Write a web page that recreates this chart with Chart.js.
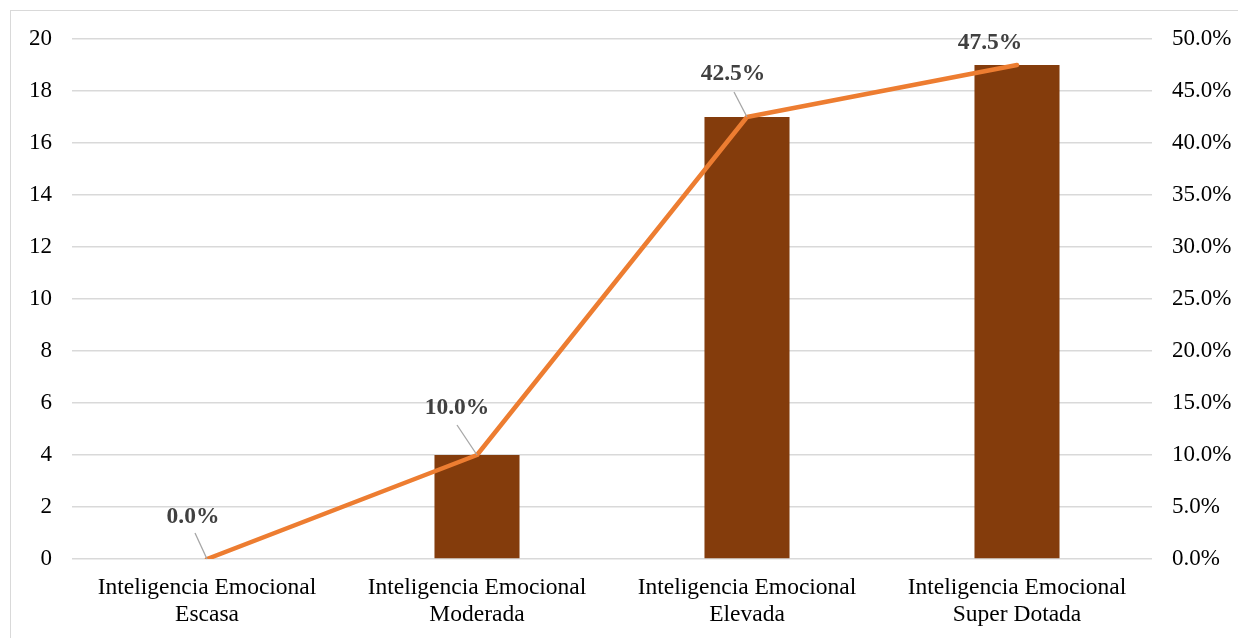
<!DOCTYPE html>
<html>
<head>
<meta charset="utf-8">
<script src="https://cdn.jsdelivr.net/npm/chart.js@4"></script>
<style>
  html, body { margin: 0; padding: 0; background: #fff; overflow: hidden; }
  #frame { position: absolute; left: 10px; top: 10px; width: 1240px; height: 640px; border: 1.5px solid #d9d9d9; box-sizing: border-box; }
  #wrap { position: absolute; left: 0; top: 0; width: 1238px; height: 638px; }
</style>
</head>
<body>
<div id="frame"></div>
<div id="wrap"><canvas id="c" width="1238" height="638"></canvas></div>
<script>
// Categories (two-line labels) and series values
const categories = [
  ['Inteligencia Emocional', 'Escasa'],
  ['Inteligencia Emocional', 'Moderada'],
  ['Inteligencia Emocional', 'Elevada'],
  ['Inteligencia Emocional', 'Super Dotada']
];
const counts = [0, 4, 17, 19];
const percents = [0.0, 10.0, 42.5, 47.5];

// Label placement relative to each line point: [label dx, label dy, leader end dx, leader end dy]
const labelOffsets = [
  [-14, -42, -12, -26],
  [-20, -47, -20, -30],
  [-14, -43, -13, -25],
  [-27, -22, null, null]
];

const FONT = '"Liberation Serif", "Times New Roman", serif';

const pctLabels = {
  id: 'pctLabels',
  afterDatasetsDraw(chart) {
    const meta = chart.getDatasetMeta(0);
    const ctx = chart.ctx;
    ctx.save();
    meta.data.forEach((pt, i) => {
      const [ldx, ldy, ex, ey] = labelOffsets[i];
      if (ex !== null) {
        ctx.strokeStyle = '#a6a6a6';
        ctx.lineWidth = 1.3;
        ctx.beginPath();
        ctx.moveTo(pt.x, pt.y);
        ctx.lineTo(pt.x + ex, pt.y + ey);
        ctx.stroke();
      }
      ctx.fillStyle = '#404040';
      ctx.font = 'bold 23.5px ' + FONT;
      ctx.textAlign = 'center';
      ctx.textBaseline = 'middle';
      ctx.fillText(percents[i].toFixed(1) + '%', pt.x + ldx, pt.y + ldy);
    });
    ctx.restore();
  }
};

new Chart(document.getElementById('c'), {
  data: {
    labels: categories,
    datasets: [
      {
        type: 'line',
        data: percents,
        yAxisID: 'y1',
        borderColor: '#ED7D31',
        borderWidth: 4.5,
        borderCapStyle: 'round',
        borderJoinStyle: 'round',
        pointRadius: 0,
        tension: 0,
        order: 0
      },
      {
        type: 'bar',
        data: counts,
        yAxisID: 'y',
        backgroundColor: '#843C0C',
        categoryPercentage: 1,
        barPercentage: 0.315,
        order: 1
      }
    ]
  },
  options: {
    responsive: false,
    animation: false,
    events: [],
    layout: { padding: { left: 0, right: 0, top: 39, bottom: 0 } },
    plugins: { legend: { display: false }, tooltip: { enabled: false } },
    scales: {
      x: {
        grid: { display: false, drawTicks: false },
        border: { display: false },
        ticks: { color: '#000', font: { family: FONT, size: 23.5, lineHeight: 1.12 }, padding: 16, maxRotation: 0, autoSkip: false },
        afterFit(s) { s.height = 79; }
      },
      y: {
        position: 'left',
        min: 0, max: 20,
        ticks: { stepSize: 2, color: '#000', font: { family: FONT, size: 23 }, padding: 20 },
        grid: { color: '#d9d9d9', lineWidth: 1.5, drawTicks: false },
        border: { display: false },
        afterFit(s) { s.width = 72; }
      },
      y1: {
        position: 'right',
        min: 0, max: 50,
        ticks: { stepSize: 5, color: '#000', font: { family: FONT, size: 23 }, padding: 20,
                 callback: v => v.toFixed(1) + '%' },
        grid: { display: false, drawTicks: false },
        border: { display: false },
        afterFit(s) { s.width = 86; }
      }
    }
  },
  plugins: [pctLabels]
});
</script>
</body>
</html>
